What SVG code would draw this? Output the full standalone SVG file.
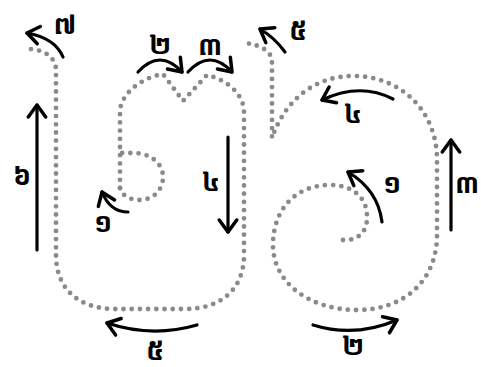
<svg xmlns="http://www.w3.org/2000/svg" width="481" height="367" viewBox="0 0 481 367">
<defs>
<marker id="ah" markerUnits="userSpaceOnUse" markerWidth="24" markerHeight="24" viewBox="-14 -11 16 22" refX="0" refY="0" orient="auto">
<path d="M-11,-8 L0,0 L-11,8" fill="none" stroke="#000" stroke-width="3.2" stroke-linecap="round" stroke-linejoin="round"/>
</marker>
</defs>
<style>
.dot{fill:none;stroke:#8a8a8a;stroke-width:4.8;stroke-linecap:round;stroke-dasharray:0 8.2}
.arr{fill:none;stroke:#000;stroke-width:3.2;stroke-linecap:round;marker-end:url(#ah)}
.lbl{font-family:"Noto Sans Khmer","Khmer OS","Noto Sans",sans-serif;font-size:27px;font-weight:bold;fill:#000;text-anchor:middle;dominant-baseline:central}
</style>
<rect width="481" height="367" fill="#fff"/>
<g id="letter-left">
<path class="dot" d="M120,188 C122,196 130,200 140,200 C152,200 163,191 163,177 C163,163 150,153 133,153 L120,153"/>
<path class="dot" d="M120,188 L120,112 C120,95 140,78 163,74 L183,101 L207,75 C228,80 244,95 244,112 L244,255 C244,290 220,309 185,309 L115,309 C80,309 56,290 56,255 L56,70 C56,58 45,50 30,49"/>
</g>
<g id="letter-right">
<path class="dot" d="M343,240 C358,241 368,232 367,215 C366,195 350,185 330,185 C295,185 273,210 273,245 C273,283 310,310 357,310 C405,310 437,280 437,235 L437,160 C437,110 400,76 353,76 C315,76 285,100 272,138 L272,62 C272,52 262,45 245,43"/>
</g>
<g id="connectors">
<path class="arr" d="M128,212 Q110,212 102,192"/>
<path class="arr" d="M138,72 Q160,48 182,72"/>
<path class="arr" d="M188,72 Q210,48 232,72"/>
<path class="arr" d="M228,137 L228,232"/>
<path class="arr" d="M197,325 Q152,338 107,323"/>
<path class="arr" d="M37,250 L37,105"/>
<path class="arr" d="M63,57 Q55,38 27,33"/>
<path class="arr" d="M382,222 Q378,190 348,172"/>
<path class="arr" d="M313,325 Q355,338 397,320"/>
<path class="arr" d="M451,230 L451,140"/>
<path class="arr" d="M393,99 Q360,82 322,100"/>
<path class="arr" d="M285,52 Q275,38 260,29"/>
</g>
<g id="labels">
<text class="lbl" x="103" y="221">១</text>
<text class="lbl" x="160" y="43">២</text>
<text class="lbl" x="210" y="44">៣</text>
<text class="lbl" x="211" y="180">៤</text>
<text class="lbl" x="155" y="349">៥</text>
<text class="lbl" x="22" y="174">៦</text>
<text class="lbl" x="65" y="23">៧</text>
<text class="lbl" x="392" y="182">១</text>
<text class="lbl" x="353" y="344">២</text>
<text class="lbl" x="467" y="182">៣</text>
<text class="lbl" x="353" y="112">៤</text>
<text class="lbl" x="298" y="29">៥</text>
</g>
</svg>
